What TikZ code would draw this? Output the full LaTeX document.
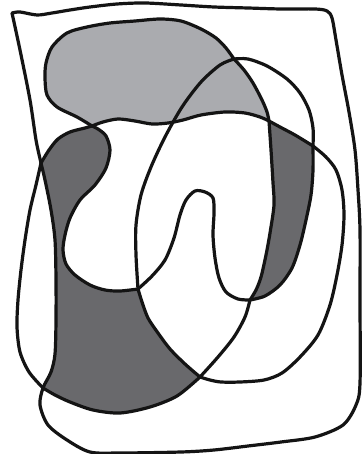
\documentclass[tikz,border=0pt]{standalone}
\usetikzlibrary{calc}
\definecolor{lightg}{RGB}{170,171,175}
\definecolor{darkg}{RGB}{105,105,108}
\definecolor{inkc}{RGB}{20,20,20}
\tikzset{
  curve/.style={draw=inkc, line width=3.2pt, line join=round, line cap=round},
  lightfill/.style={fill=lightg},
  darkfill/.style={fill=darkg}
}
\begin{document}
\begin{tikzpicture}[x=1pt,y=-1pt]
\useasboundingbox (0,0) rectangle (362,454);
\fill[white] (0,0) rectangle (362,454);
% ---------- fills ----------
% light grey blob: S1, S2, S3 reversed
\fill[lightfill]
  plot[smooth] coordinates {(92,126) (77,117) (57,107) (47,95) (45,78) (46,63) (52,47) (67,33) (87,27) (110,23) (135,21) (160,19) (181,21) (201,29) (216,38) (226,48) (234,59)}
  -- plot[smooth] coordinates {(234,59) (244,70) (253,83) (262,100) (267,112) (269,121)}
  -- plot[smooth] coordinates {(269,121) (260,117) (245,113) (225,112) (201,115) (183,120) (168,123) (152,124) (135,121) (118,119) (103,122) (92,126)}
  -- cycle;
% dark right crescent: S5, S10, S4 reversed
\fill[darkfill]
  plot[smooth] coordinates {(269,121) (280,127) (295,135) (313,146)}
  -- plot[smooth] coordinates {(313,146) (313,170) (311,195) (306,220) (300,245) (292,268) (280,285) (265,296) (250,300)}
  -- plot[smooth] coordinates {(250,300) (256,290) (261,277) (266,255) (270,233) (274,205) (273,183) (271,150) (269,121)}
  -- cycle;
% dark left region: S13, A-left, S15, S8 reversed, S12
\fill[darkfill]
  plot[smooth] coordinates {(92,126) (85,128) (70,132) (58,139) (49,150) (41,163)}
  -- plot[smooth] coordinates {(41,163) (45,180) (51,210) (55,240) (56,280) (56,320) (55,354) (51,372) (43,388)}
  -- plot[smooth] coordinates {(43,388) (55,395) (70,402) (93,410) (120,413) (150,407) (177,396) (200,377)}
  -- plot[smooth] coordinates {(200,377) (185,364) (170,349) (158,333) (148,318) (142,302) (138,289)}
  -- plot[smooth] coordinates {(138,289) (120,291) (105,290) (90,285) (75,275) (66,264) (63,250) (65,235) (70,218) (80,200) (95,185) (106,168) (110,150) (106,136) (98,129) (92,126)}
  -- cycle;
% ---------- outer frame ----------
\draw[curve] plot[smooth, tension=0.5] coordinates {(12,13) (20,12) (37,15) (52,13) (70,10) (90,7) (117,4) (145,3) (181,5) (214,7) (248,8) (281,9) (315,9) (327,11) (332,18) (336,40) (342,75) (349,112) (355,150) (358,190) (360,230) (360,300) (360,383) (356,405) (343,425) (315,437) (281,442) (248,446) (214,450) (181,452) (120,453) (90,452) (67,440) (48,425) (40,405) (43,388) (51,372) (55,354) (56,320) (56,280) (55,240) (51,210) (45,180) (41,163) (36,140) (30,100) (20,50) (12,13)};
% ---------- long curve, by segments ----------
% S1
\draw[curve] plot[smooth] coordinates {(92,126) (77,117) (57,107) (47,95) (45,78) (46,63) (52,47) (67,33) (87,27) (110,23) (135,21) (160,19) (181,21) (201,29) (216,38) (226,48) (234,59)};
% S2
\draw[curve] plot[smooth] coordinates {(234,59) (244,70) (253,83) (262,100) (267,112) (269,121)};
% S3
\draw[curve] plot[smooth] coordinates {(92,126) (103,122) (118,119) (135,121) (152,124) (168,123) (183,120) (201,115) (225,112) (245,113) (260,117) (269,121)};
% S4
\draw[curve] plot[smooth] coordinates {(269,121) (271,150) (273,183) (274,205) (270,233) (266,255) (261,277) (256,290) (250,300)};
% S5
\draw[curve] plot[smooth] coordinates {(269,121) (280,127) (295,135) (313,146)};
% S6
\draw[curve] plot[smooth] coordinates {(234,59) (248,59) (267,66) (287,79) (300,93) (309,110) (313,128) (313,146)};
% S7
\draw[curve] plot[smooth] coordinates {(234,59) (220,65) (201,82) (182,107) (165,137) (151,167) (141,195) (136,225) (136,255) (138,289)};
% S8
\draw[curve] plot[smooth] coordinates {(138,289) (142,302) (148,318) (158,333) (170,349) (185,364) (200,377)};
% S9
\draw[curve] plot[smooth] coordinates {(200,377) (218,357) (234,337) (245,317) (250,300)};
% S10
\draw[curve] plot[smooth] coordinates {(313,146) (313,170) (311,195) (306,220) (300,245) (292,268) (280,285) (265,296) (250,300)};
% S11
\draw[curve] plot[smooth] coordinates {(250,300) (238,299) (226,292) (219,278) (215,258) (213,235) (214,213) (213,198) (205,192) (195,191) (186,200) (180,215) (174,238) (165,260) (152,276) (138,289)};
% S12
\draw[curve] plot[smooth] coordinates {(138,289) (120,291) (105,290) (90,285) (75,275) (66,264) (63,250) (65,235) (70,218) (80,200) (95,185) (106,168) (110,150) (106,136) (98,129) (92,126)};
% S13
\draw[curve] plot[smooth] coordinates {(92,126) (85,128) (70,132) (58,139) (49,150) (41,163)};
% S14
\draw[curve] plot[smooth] coordinates {(41,163) (36,185) (30,210) (25,240) (21,270) (18,300) (17,327) (20,352) (29,372) (43,388)};
% S15
\draw[curve] plot[smooth] coordinates {(43,388) (55,395) (70,402) (93,410) (120,413) (150,407) (177,396) (200,377)};
% S16
\draw[curve] plot[smooth] coordinates {(313,146) (326,157) (336,170) (342,190) (344,215) (342,245) (337,275) (330,305) (318,335) (300,357) (282,373) (264,380) (240,382) (221,382) (210,380) (200,377)};
\end{tikzpicture}
\end{document}
